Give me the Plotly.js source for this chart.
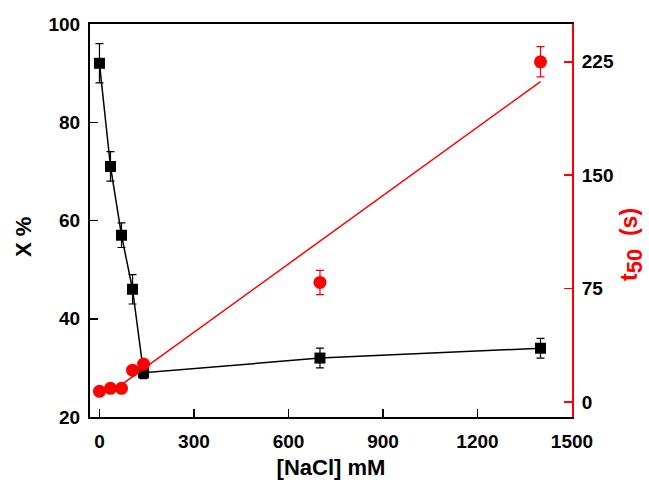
<!DOCTYPE html>
<html>
<head>
<meta charset="utf-8">
<script src="https://cdn.plot.ly/plotly-3.0.1.min.js"></script>
<style>html,body{margin:0;padding:0;background:#fff;}#chart{width:649px;height:486px;}</style>
</head>
<body>
<div id="chart"></div>
<script>
// NaCl concentration (mM)
const nacl = [0, 35, 70, 105, 140, 700, 1400];
// X % (left axis)
const xPct = [92, 71, 57, 46, 29, 32, 34];
const xPctErr = [4, 3, 2.5, 3, 1.2, 2, 2];
// t50 (s) (right axis)
const t50 = [7, 9, 9, 21, 25, 79, 225];
const t50Err = [0, 0, 0, 0, 0, 8, 10];
// range of the linear fit drawn for t50
const fitRange = [55, 1400];

// least-squares fit of t50 vs NaCl
const n = nacl.length;
const mx = nacl.reduce((a, b) => a + b, 0) / n;
const my = t50.reduce((a, b) => a + b, 0) / n;
let sxy = 0, sxx = 0;
for (let i = 0; i < n; i++) { sxy += (nacl[i] - mx) * (t50[i] - my); sxx += (nacl[i] - mx) ** 2; }
const slope = sxy / sxx, icpt = my - slope * mx;
const fitY = fitRange.map(x => icpt + slope * x);

const fam = 'Liberation Sans, Arial, sans-serif';
const font = {family: fam, size: 19, color: '#000', weight: 'bold'};

const traces = [
  {x: fitRange, y: fitY, yaxis: 'y2', mode: 'lines', line: {color: '#ff0000', width: 1.5}, hoverinfo: 'skip'},
  {x: nacl, y: t50, yaxis: 'y2', mode: 'markers',
   marker: {symbol: 'circle', size: 13, color: '#ff0000'},
   error_y: {type: 'data', array: t50Err, visible: true, color: '#ff0000', thickness: 1.2, width: 4}},
  {x: nacl, y: xPct, mode: 'lines+markers',
   line: {color: '#000', width: 1.5},
   marker: {symbol: 'square', size: 11, color: '#000'},
   error_y: {type: 'data', array: xPctErr, visible: true, color: '#000', thickness: 1.2, width: 4}}
];

const layout = {
  width: 649, height: 486,
  margin: {l: 90, r: 77, t: 24, b: 69},
  paper_bgcolor: '#fff', plot_bgcolor: '#fff',
  showlegend: false,
  font: font,
  xaxis: {
    range: [-30, 1500], tickvals: [0, 300, 600, 900, 1200, 1500],
    showgrid: false, zeroline: false,
    showline: true, linecolor: '#000', linewidth: 2, mirror: true,
    ticks: 'inside', ticklen: 8, tickwidth: 1.5, tickcolor: '#000',
    tickfont: font, ticklabelstandoff: 6,
    title: {text: '[NaCl] mM', font: {family: fam, size: 22, color: '#000', weight: 'bold'}, standoff: 9}
  },
  yaxis: {
    range: [20, 100], tickvals: [20, 40, 60, 80, 100],
    showgrid: false, zeroline: false,
    showline: true, linecolor: '#000', linewidth: 2,
    ticks: 'inside', ticklen: 8, tickwidth: 1.5, tickcolor: '#000',
    tickfont: font, ticklabelstandoff: 4
  },
  yaxis2: {
    overlaying: 'y', side: 'right',
    range: [-10, 250], tickvals: [0, 75, 150, 225],
    showgrid: false, zeroline: false,
    showline: true, linecolor: '#ff0000', linewidth: 2,
    ticks: 'inside', ticklen: 8, tickwidth: 1.5, tickcolor: '#ff0000',
    tickfont: font, ticklabelstandoff: 4
  },
  annotations: [
    {text: 'X %', xref: 'paper', yref: 'paper', x: -0.139, y: 0.458,
     xanchor: 'center', yanchor: 'middle', textangle: -90, showarrow: false,
     font: {family: fam, size: 22, color: '#000', weight: 'bold'}},
    {text: 't<sub><span style="font-size:22px">50</span></sub>&nbsp; (s)', xref: 'paper', yref: 'paper', x: 1.1245, y: 0.4377,
     xanchor: 'center', yanchor: 'middle', textangle: -90, showarrow: false,
     font: {family: fam, size: 23, color: '#ff0000', weight: 'bold'}}
  ]
};

Plotly.newPlot('chart', traces, layout, {displayModeBar: false, staticPlot: true});
</script>
</body>
</html>
